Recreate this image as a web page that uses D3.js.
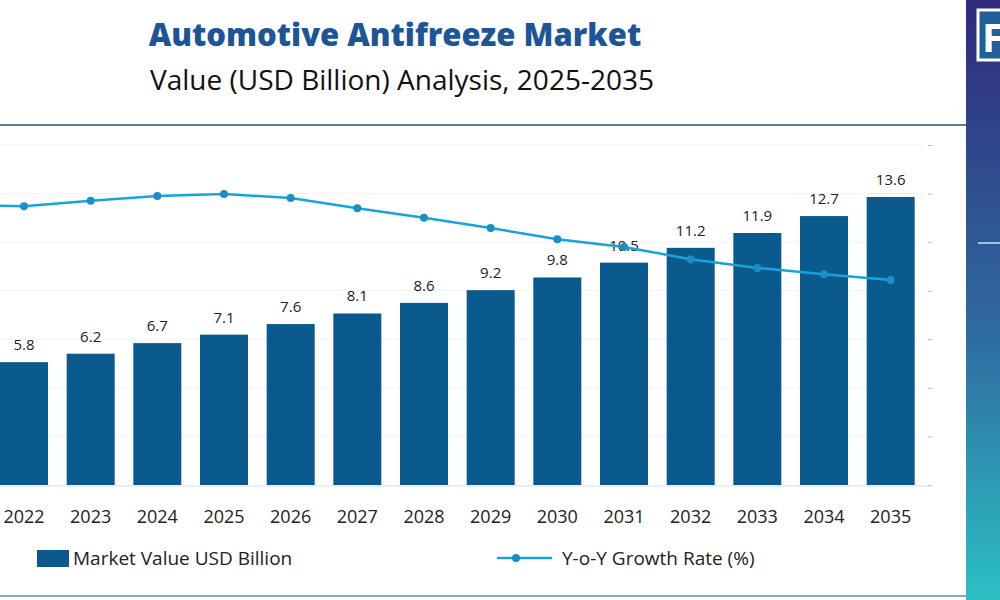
<!DOCTYPE html>
<html><head><meta charset="utf-8">
<script src="https://cdn.jsdelivr.net/npm/d3@7"></script>
<style>body{margin:0;overflow:hidden;background:#fff}svg{display:block;font-family:"Open Sans",sans-serif}</style>
</head><body><svg id="chart" width="1000" height="600"></svg>
<script>
var years = ["2021","2022","2023","2024","2025","2026","2027","2028","2029","2030","2031","2032","2033","2034","2035"];
var marketValue = [5.4,5.8,6.2,6.7,7.1,7.6,8.1,8.6,9.2,9.8,10.5,11.2,11.9,12.7,13.6];
var growthRate = [5.76,5.74,5.85,5.95,5.99,5.91,5.70,5.50,5.29,5.06,4.90,4.65,4.47,4.34,4.22];
var growthTicks = [0,1,2,3,4,5,6,7];

var svg = d3.select("#chart");

// right side panel
var defs = svg.append("defs");
var grad = defs.append("linearGradient").attr("id","side").attr("x1",0).attr("y1",0).attr("x2",0).attr("y2",1);
grad.append("stop").attr("offset","0%").attr("stop-color","#302a7c");
grad.append("stop").attr("offset","55%").attr("stop-color","#2f6aa0");
grad.append("stop").attr("offset","100%").attr("stop-color","#2cc0c4");
svg.append("rect").attr("x",966).attr("y",0).attr("width",34).attr("height",600).attr("fill","url(#side)");
svg.append("rect").attr("x",978).attr("y",10).attr("width",30).attr("height",50).attr("fill","#1f5f9a").attr("stroke","#fff").attr("stroke-width",3);
svg.append("text").attr("x",982).attr("y",52).attr("fill","#fff").attr("font-size",40).attr("font-weight",700).text("F");
svg.append("line").attr("x1",978).attr("x2",1000).attr("y1",243).attr("y2",243).attr("stroke","#9ac6e0").attr("stroke-width",2);

// frame lines
svg.append("line").attr("x1",0).attr("x2",966).attr("y1",125).attr("y2",125).attr("stroke","#5b7f9c").attr("stroke-width",2);
svg.append("line").attr("x1",0).attr("x2",966).attr("y1",596).attr("y2",596).attr("stroke","#8aa8c0").attr("stroke-width",2);

// titles
svg.append("text").attr("x",395).attr("y",46).attr("text-anchor","middle").attr("font-size",31).attr("font-weight",800).attr("fill","#1d5597").text("Automotive Antifreeze Market");
svg.append("text").attr("x",402).attr("y",90).attr("text-anchor","middle").attr("font-size",28).attr("fill","#111").text("Value (USD Billion) Analysis, 2025-2035");

var x = d3.scaleBand().domain(years).range([-76,924]).paddingInner(0.28).paddingOuter(0.14);
var y = d3.scaleLinear().domain([0,13.6]).range([485,197]);
var y2 = d3.scaleLinear().domain([0,7]).range([485,145]);

// faint gridlines
svg.append("g").selectAll("line").data(growthTicks.slice(1)).join("line")
  .attr("x1",0).attr("x2",924).attr("y1",function(d){return y2(d);}).attr("y2",function(d){return y2(d);})
  .attr("stroke","#f2f2f2");

// right axis (no labels)
var ax = svg.append("g").attr("transform","translate(928,0)")
  .call(d3.axisRight(y2).tickValues(growthTicks).tickSize(4).tickFormat(""));
ax.select(".domain").remove();
ax.selectAll("line").attr("stroke","#bbb");
svg.append("line").attr("x1",0).attr("x2",932).attr("y1",486).attr("y2",486).attr("stroke","#ddd");

svg.append("g").selectAll("rect").data(marketValue).join("rect")
  .attr("x",function(d,i){return x(years[i]);}).attr("width",x.bandwidth())
  .attr("y",function(d){return y(d);}).attr("height",function(d){return 485-y(d);})
  .attr("fill","#0a5a8e");

svg.append("g").selectAll("text").data(marketValue).join("text")
  .attr("x",function(d,i){return x(years[i])+x.bandwidth()/2;}).attr("y",function(d){return y(d)-12;})
  .attr("text-anchor","middle").attr("font-size",15).attr("fill","#222").text(function(d){return d;});

svg.append("g").selectAll("text").data(years).join("text")
  .attr("x",function(d){return x(d)+x.bandwidth()/2;}).attr("y",523)
  .attr("text-anchor","middle").attr("font-size",18).attr("fill","#222").text(function(d){return d;});

var line = d3.line().x(function(d,i){return x(years[i])+x.bandwidth()/2;}).y(function(d){return y2(d);});
svg.append("path").datum(growthRate).attr("d",line).attr("fill","none").attr("stroke","#1aa3d9").attr("stroke-width",2.5);
svg.append("g").selectAll("circle").data(growthRate).join("circle")
  .attr("cx",function(d,i){return x(years[i])+x.bandwidth()/2;}).attr("cy",function(d){return y2(d);})
  .attr("r",4).attr("fill","#1a8fc4");

// legend
svg.append("rect").attr("x",37).attr("y",550).attr("width",32).attr("height",17).attr("fill","#0a5a8e");
svg.append("text").attr("x",73).attr("y",565).attr("font-size",19).attr("fill","#222").text("Market Value USD Billion");
svg.append("line").attr("x1",497).attr("x2",552).attr("y1",558).attr("y2",558).attr("stroke","#1aa3d9").attr("stroke-width",2.5);
svg.append("circle").attr("cx",516).attr("cy",558).attr("r",4).attr("fill","#1a8fc4");
svg.append("text").attr("x",562).attr("y",565).attr("font-size",19).attr("fill","#222").text("Y-o-Y Growth Rate (%)");
</script></body></html>
